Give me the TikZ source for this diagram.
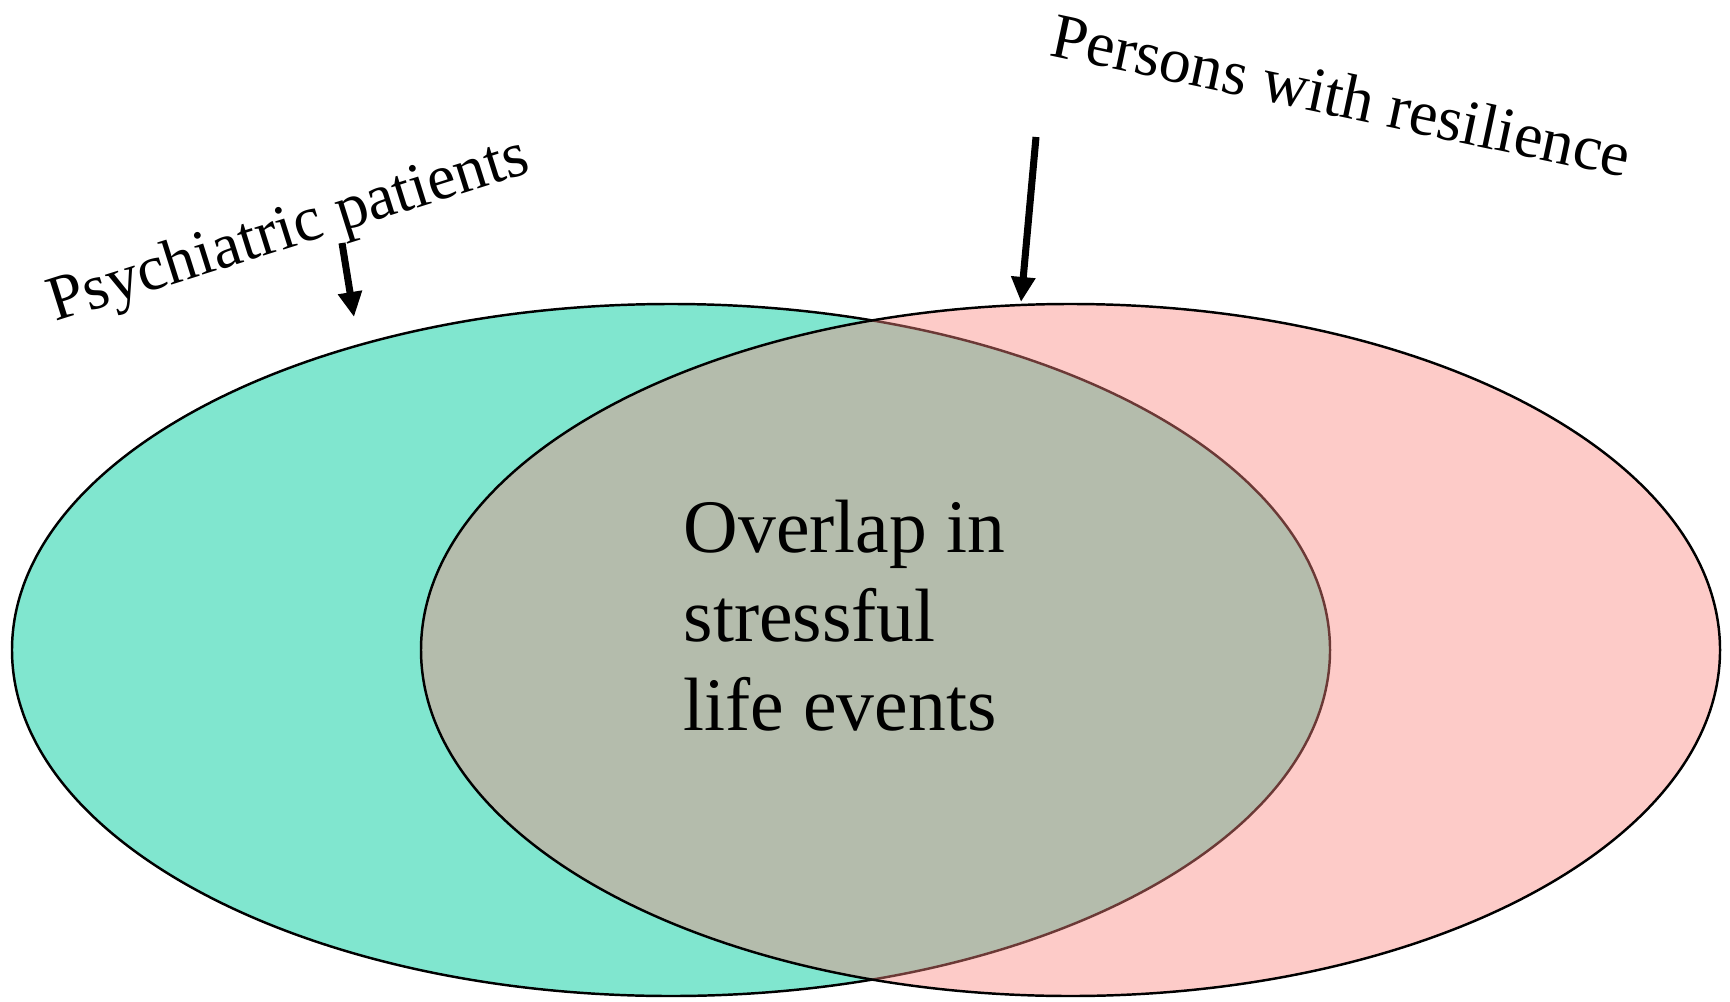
\documentclass[tikz,border=0pt]{standalone}
\usepackage{fontspec}
\setmainfont{Liberation Serif}
\usepackage{tikz}
\usetikzlibrary{positioning,arrows.meta}
\tikzstyle{pointer} = [line width=2pt,-{Triangle[length=0.25cm,width=0.23cm]}]
\tikzstyle{grouplabel} = [inner sep=0pt, anchor=base west, font=\fontsize{18.2pt}{22pt}\selectfont]
\tikzstyle{overlaptext} = [inner sep=0pt, anchor=base west, align=left, font=\fontsize{21.5pt}{25.3pt}\selectfont]

\begin{document}
\begin{tikzpicture}
\definecolor{patientgreen}{RGB}{128,230,207}
\definecolor{resilientpink}{RGB}{250,134,127}
\useasboundingbox (0,0) rectangle (17.30,10.01);
\draw[fill=patientgreen, line width=0.7pt] (6.71,3.51) ellipse [x radius=6.59cm, y radius=3.46cm];
\draw[fill=resilientpink, fill opacity=0.43, line width=0.7pt] (10.705,3.51) ellipse [x radius=6.495cm, y radius=3.46cm];
\node[overlaptext] (overlap) at (6.83,2.71) {Overlap in\\stressful\\life events};
\node[grouplabel, rotate=17.5] (patients) at (0.55,6.79) {Psychiatric patients};
\node[grouplabel, rotate=-12] (resilient) at (10.48,9.46) {Persons with resilience};
\coordinate (patientsfrom) at (3.42,7.58);
\coordinate (patientsto) at (3.54,6.84);
\coordinate (resilientfrom) at (10.36,8.64);
\coordinate (resilientto) at (10.21,6.99);
\draw[pointer] (patientsfrom) -- (patientsto);
\draw[pointer] (resilientfrom) -- (resilientto);
\end{tikzpicture}
\end{document}
